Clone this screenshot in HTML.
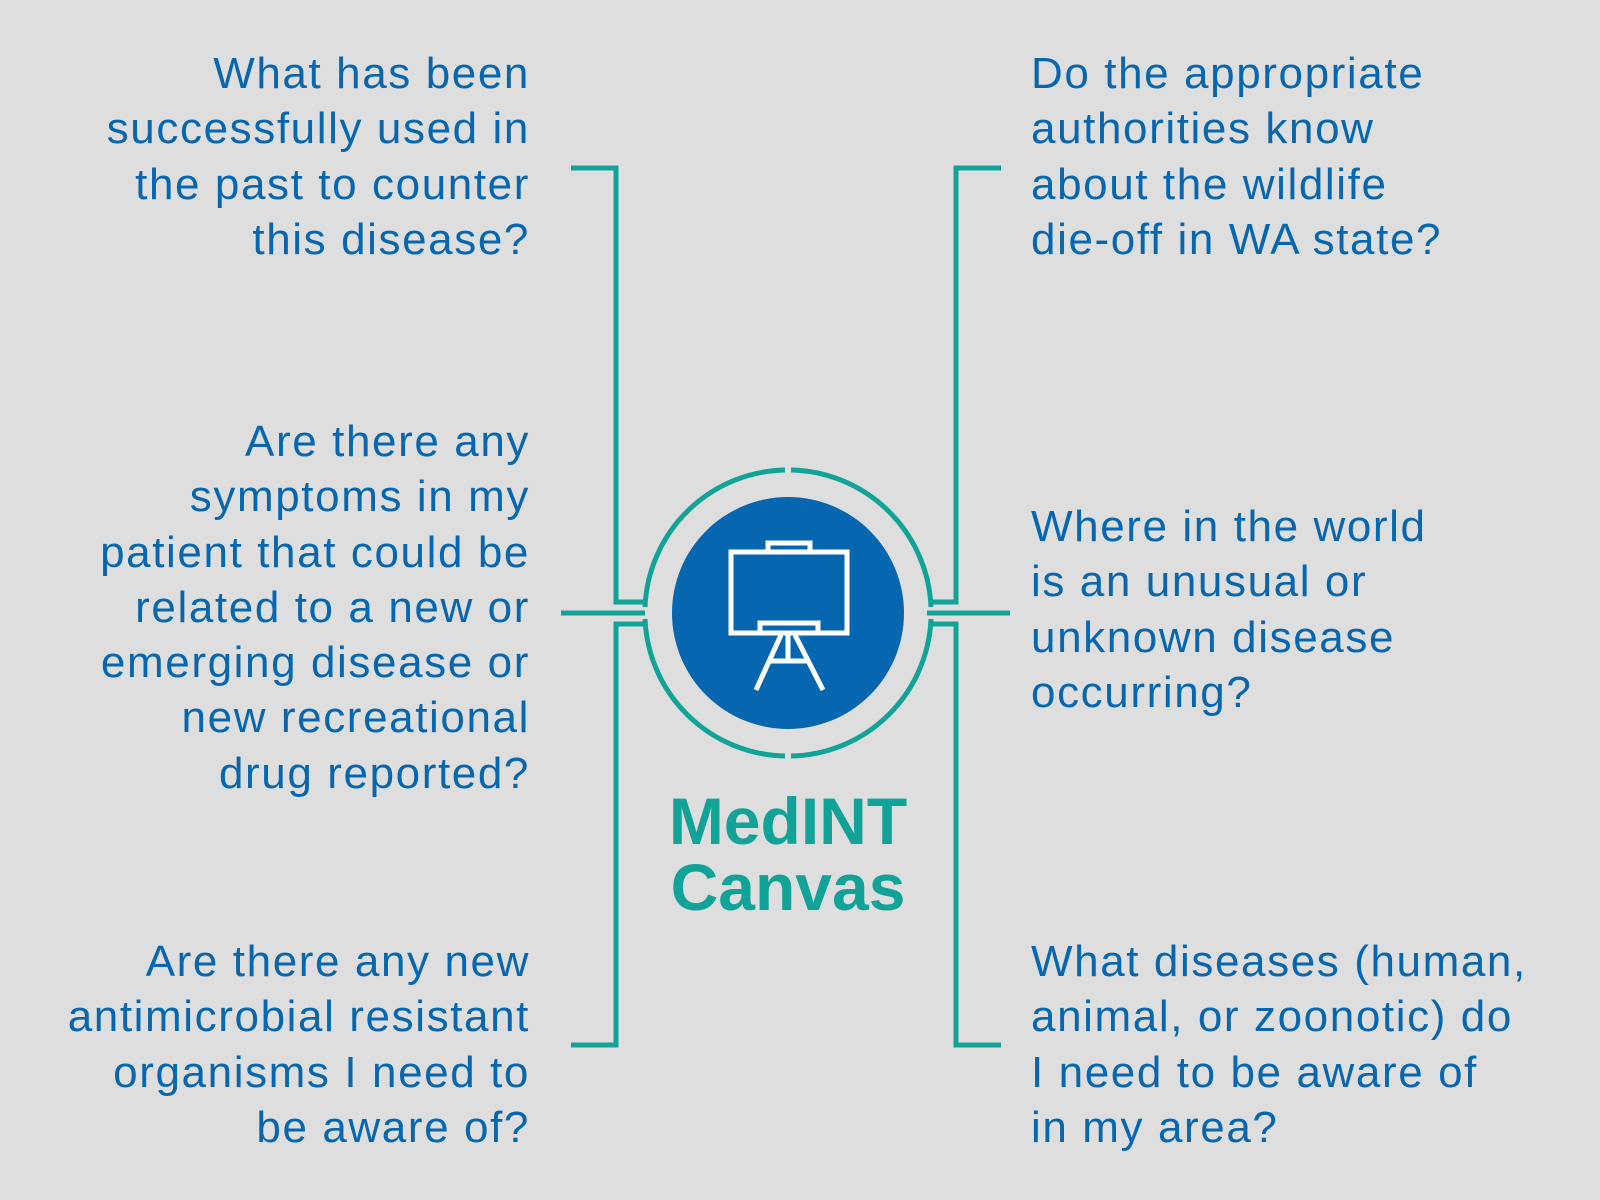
<!DOCTYPE html>
<html><head><meta charset="utf-8"><style>
html,body{margin:0;padding:0}
body{width:1600px;height:1200px;background:#dedede;position:relative;overflow:hidden;font-family:"Liberation Sans",sans-serif}
.t{position:absolute;color:#0667b0;font-size:44px;line-height:55.3px;white-space:nowrap;letter-spacing:1.6px}
.l{right:1070px;text-align:right}
.r{left:1031px;text-align:left}
.c{position:absolute;left:588px;width:400px;text-align:center;color:#12a398;font-weight:bold;font-size:66px;line-height:66px}
svg{position:absolute;left:0;top:0}
</style></head><body>
<svg width="1600" height="1200" viewBox="0 0 1600 1200">
<g stroke="#12a398" stroke-width="5" fill="none">
<polyline points="571,168 616,168 616,602 643,602"/>
<polyline points="571,1045 616,1045 616,624 643,624"/>
<polyline points="1001,168 956,168 956,602 930,602"/>
<polyline points="1001,1045 956,1045 956,624 930,624"/>
<line x1="561" y1="613" x2="645" y2="613"/>
<line x1="927" y1="613" x2="1010" y2="613"/>
<path d="M785,470 A143,143 0 0 0 645,607"/>
<path d="M791,470 A143,143 0 0 1 931,607"/>
<path d="M785,756 A143,143 0 0 1 645,619"/>
<path d="M791,756 A143,143 0 0 0 931,619"/>
</g>
<circle cx="788" cy="613" r="116" fill="#0667b0"/>
<g stroke="#fff" stroke-width="5" fill="none">
<rect x="731" y="552" width="116" height="81"/>
<rect x="768" y="543" width="42" height="9"/>
<rect x="760" y="623" width="58" height="10"/>
<line x1="781" y1="635" x2="756" y2="690"/>
<line x1="795" y1="635" x2="823" y2="690"/>
<line x1="788" y1="635" x2="788" y2="661"/>
<line x1="770" y1="661" x2="808" y2="661"/>
</g>
</svg>
<div class="t l" style="top:46px">What has been<br>successfully used in<br>the past to counter<br>this disease?</div>
<div class="t l" style="top:414px">Are there any<br>symptoms in my<br>patient that could be<br>related to a new or<br>emerging disease or<br>new recreational<br>drug reported?</div>
<div class="t l" style="top:934px">Are there any new<br>antimicrobial resistant<br>organisms I need to<br>be aware of?</div>
<div class="t r" style="top:46px">Do the appropriate<br>authorities know<br>about the wildlife<br>die-off in WA state?</div>
<div class="t r" style="top:499px">Where in the world<br>is an unusual or<br>unknown disease<br>occurring?</div>
<div class="t r" style="top:934px">What diseases (human,<br>animal, or zoonotic) do<br>I need to be aware of<br>in my area?</div>
<div class="c" style="top:788px">MedINT<br>Canvas</div>
</body></html>
